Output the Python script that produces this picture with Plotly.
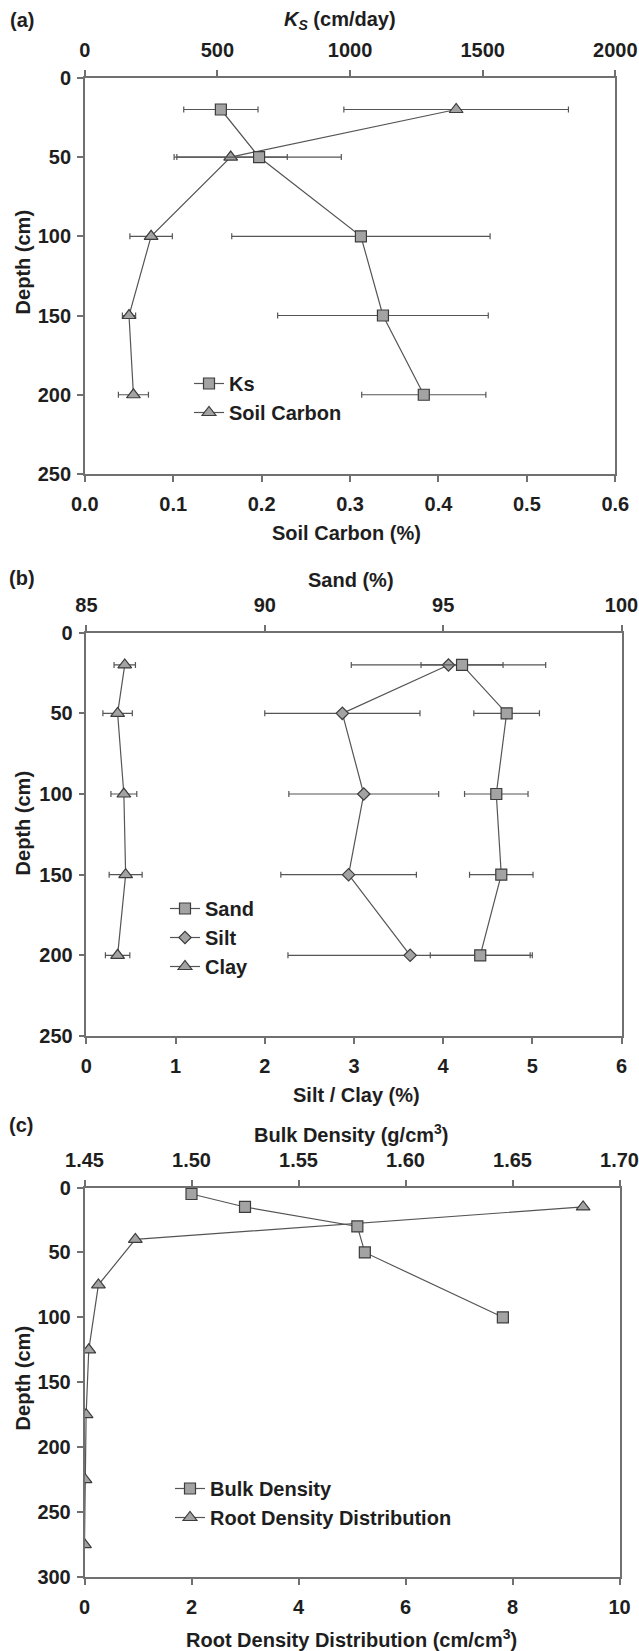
import plotly.graph_objects as go

# ---------------- data ----------------
depth_a = [20, 50, 100, 150, 200]
ks = [513, 657, 1041, 1124, 1278]
ks_err = [140, 310, 487, 397, 234]
soil_carbon = [0.420, 0.165, 0.075, 0.050, 0.055]
soil_carbon_err = [0.127, 0.064, 0.024, 0.0075, 0.017]

depth_b = [20, 50, 100, 150, 200]
sand = [95.53, 96.78, 96.49, 96.63, 96.04]
sand_err = [1.15, 0.92, 0.89, 0.89, 1.40]
silt = [4.06, 2.87, 3.11, 2.94, 3.63]
silt_err = [1.09, 0.87, 0.84, 0.76, 1.37]
clay = [0.43, 0.35, 0.42, 0.44, 0.35]
clay_err = [0.12, 0.165, 0.145, 0.185, 0.137]

depth_bulk = [5, 15, 30, 50, 100]
bulk_density = [1.500, 1.525, 1.5775, 1.581, 1.6455]
depth_root = [15, 40, 75, 125, 175, 225, 275]
root_density = [9.32, 0.95, 0.26, 0.08, 0.03, 0.01, 0.0]

# ---------------- style ----------------
W, H = 639, 1651
FONT = "Liberation Sans, Arial, sans-serif"
TXT = "#1e1e1e"
AX = "#707070"
LINE = "#555555"
FILL = "#a3a3a3"
EDGE = "#3c3c3c"
FS = 20


def px(x):
    return x / W


def py(y):
    return 1 - y / H


def marker(symbol, size):
    return dict(symbol=symbol, size=size, color=FILL, line=dict(color=EDGE, width=1.2))


def err(arr):
    return dict(type="data", array=arr, visible=True, color=LINE, thickness=1.2, width=3)


fig = go.Figure()

# panel (a)
fig.add_trace(go.Scatter(x=ks, y=depth_a, name="Ks", xaxis="x2", yaxis="y",
                         mode="lines+markers", line=dict(color=LINE, width=1.2),
                         marker=marker("square", 11), error_x=err(ks_err), legend="legend"))
fig.add_trace(go.Scatter(x=soil_carbon, y=depth_a, name="Soil Carbon", xaxis="x", yaxis="y",
                         mode="lines+markers", line=dict(color=LINE, width=1.2),
                         marker=marker("triangle-up", 12), error_x=err(soil_carbon_err), legend="legend"))

# panel (b)
fig.add_trace(go.Scatter(x=sand, y=depth_b, name="Sand", xaxis="x4", yaxis="y2",
                         mode="lines+markers", line=dict(color=LINE, width=1.2),
                         marker=marker("square", 11), error_x=err(sand_err), legend="legend2"))
fig.add_trace(go.Scatter(x=silt, y=depth_b, name="Silt", xaxis="x3", yaxis="y2",
                         mode="lines+markers", line=dict(color=LINE, width=1.2),
                         marker=marker("diamond", 9.5), error_x=err(silt_err), legend="legend2"))
fig.add_trace(go.Scatter(x=clay, y=depth_b, name="Clay", xaxis="x3", yaxis="y2",
                         mode="lines+markers", line=dict(color=LINE, width=1.2),
                         marker=marker("triangle-up", 12), error_x=err(clay_err), legend="legend2"))

# panel (c)
fig.add_trace(go.Scatter(x=bulk_density, y=depth_bulk, name="Bulk Density", xaxis="x6", yaxis="y3",
                         mode="lines+markers", line=dict(color=LINE, width=1.2),
                         marker=marker("square", 11), legend="legend3"))
fig.add_trace(go.Scatter(x=root_density, y=depth_root, name="Root Density Distribution",
                         xaxis="x5", yaxis="y3",
                         mode="lines+markers", line=dict(color=LINE, width=1.2),
                         marker=marker("triangle-up", 12), legend="legend3"))

tickfont = dict(family=FONT, size=FS, color=TXT, weight="bold")


def xax(domain, rng, dtick, anchor, side="bottom", overlaying=None, fmt=None):
    d = dict(domain=domain, range=rng, dtick=dtick, tick0=rng[0], anchor=anchor, side=side,
             showline=True, linecolor=AX, linewidth=1.5, ticks="outside", ticklen=6,
             tickcolor=AX, tickwidth=1.5, showgrid=False, zeroline=False, tickfont=tickfont,
             fixedrange=True, automargin=False, ticklabelstandoff=5)
    if overlaying:
        d["overlaying"] = overlaying
    if fmt:
        d["tickformat"] = fmt
    return d


def yax(domain, rng, anchor):
    return dict(domain=domain, range=rng, dtick=50, anchor=anchor, showline=True, mirror=True,
                linecolor=AX, linewidth=1.5, ticks="outside", ticklen=6, tickcolor=AX,
                tickwidth=1.5, showgrid=False, zeroline=False, tickfont=tickfont, fixedrange=True,
                automargin=False, ticklabelstandoff=2)


dom_a_x = [px(84.8), px(615.3)]
dom_a_y = [py(474), py(77.8)]
dom_b_x = [px(86.4), px(621.5)]
dom_b_y = [py(1036), py(632.7)]
dom_c_x = [px(84.5), px(619.5)]
dom_c_y = [py(1577), py(1187.5)]

legfont = dict(family=FONT, size=FS, color=TXT, weight="bold")


def leg(x, y):
    return dict(x=px(x), y=py(y), xanchor="left", yanchor="top", bgcolor="rgba(0,0,0,0)",
                font=legfont, itemwidth=30, tracegroupgap=0)


fig.update_layout(
    width=W, height=H, autosize=False,
    margin=dict(l=0, r=0, t=0, b=0, autoexpand=False),
    paper_bgcolor="white", plot_bgcolor="white",
    font=dict(family=FONT, size=FS, color=TXT),
    xaxis=xax(dom_a_x, [0, 0.6], 0.1, "y", fmt=".1f"),
    xaxis2=xax(dom_a_x, [0, 2000], 500, "y", side="top", overlaying="x"),
    yaxis=yax(dom_a_y, [250, 0], "x"),
    xaxis3=xax(dom_b_x, [0, 6], 1, "y2"),
    xaxis4=xax(dom_b_x, [85, 100], 5, "y2", side="top", overlaying="x3"),
    yaxis2=yax(dom_b_y, [250, 0], "x3"),
    xaxis5=xax(dom_c_x, [0, 10], 2, "y3"),
    xaxis6=xax(dom_c_x, [1.45, 1.70], 0.05, "y3", side="top", overlaying="x5", fmt=".2f"),
    yaxis3=yax(dom_c_y, [300, 0], "x5"),
    legend=leg(189, 364),
    legend2=leg(165, 889),
    legend3=leg(170, 1469),
    showlegend=True,
)

ann_font = dict(family=FONT, size=FS, color=TXT, weight="bold")
annotations = [
    ("(a)", 21.6, 20, 0),
    ("<i>K<sub>S</sub></i> (cm/day)", 340, 20, 0),
    ("Soil Carbon (%)", 347, 533, 0),
    ("Depth (cm)", 23.4, 262, -90),
    ("(b)", 21.6, 578, 0),
    ("Sand (%)", 351, 580, 0),
    ("Silt / Clay (%)", 356.6, 1095, 0),
    ("Depth (cm)", 23.4, 823, -90),
    ("(c)", 21, 1125, 0),
    ("Bulk Density (g/cm<sup>3</sup>)", 351, 1133, 0),
    ("Root Density Distribution (cm/cm<sup>3</sup>)", 351.4, 1638, 0),
    ("Depth (cm)", 23.4, 1378, -90),
]
for text, x, y, ang in annotations:
    fig.add_annotation(text=text, x=px(x), y=py(y), xref="paper", yref="paper",
                       xanchor="center", yanchor="middle", showarrow=False,
                       textangle=ang, font=ann_font)

# remove the browser's default page margin so the figure sits at the window origin
fig.write_html("out.html",
               config={"displayModeBar": False},
               post_script="document.body.style.margin='0px';"
                           "document.documentElement.style.overflow='hidden';")
